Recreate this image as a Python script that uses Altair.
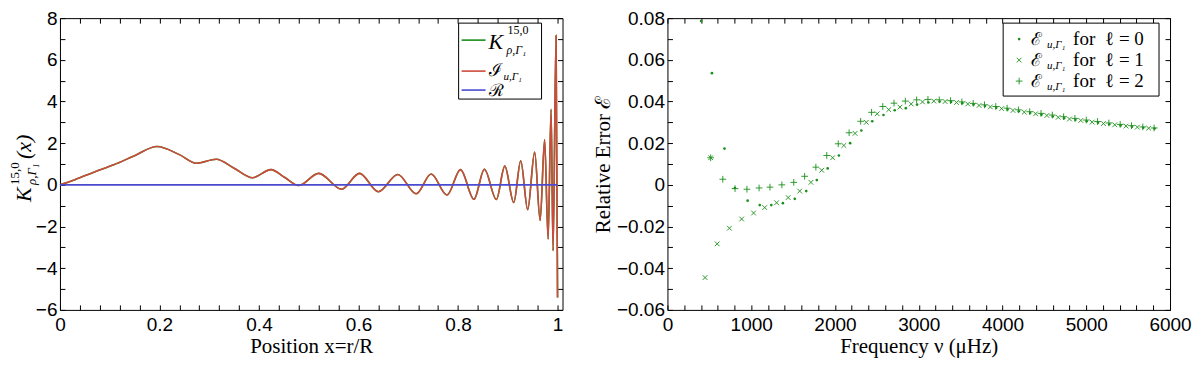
import altair as alt
import pandas as pd

# ---------------- left panel : kernel, integrand, residual ----------------
POSITION = [0.000, 0.030, 0.068, 0.108, 0.150, 0.195, 0.240, 0.274, 0.314, 0.350,
            0.387, 0.424, 0.452, 0.480, 0.520, 0.566, 0.602, 0.640, 0.679, 0.716,
            0.746, 0.778, 0.805, 0.832, 0.853, 0.877, 0.894, 0.912, 0.926, 0.940,
            0.954, 0.965, 0.974, 0.981, 0.987, 0.991, 0.997, 1.000]
KERNEL = [0.00, 0.25, 0.61, 0.96, 1.40, 1.84, 1.45, 1.04, 1.23, 0.80,
          0.34, 0.73, 0.35, -0.03, 0.55, -0.21, 0.55, -0.33, 0.50, -0.43,
          0.52, -0.49, 0.73, -0.69, 0.75, -0.70, 0.90, -0.85, 1.16, -1.19,
          1.57, -1.71, 2.18, -2.60, 3.63, -3.16, 7.17, -5.40]
INTEGRAND = [0.00, 0.25, 0.61, 0.96, 1.40, 1.84, 1.45, 1.04, 1.23, 0.80,
             0.34, 0.73, 0.35, -0.03, 0.55, -0.21, 0.55, -0.33, 0.50, -0.43,
             0.52, -0.49, 0.73, -0.69, 0.75, -0.70, 0.90, -0.85, 1.16, -1.19,
             1.57, -1.71, 2.18, -2.60, 3.63, -3.16, 7.17, -5.40]
RESID_X = [0.0, 1.0]
RESID = [0.0, 0.0]

# ---------------- right panel : relative error per degree ----------------
FREQ_L0 = [402, 531, 681, 805, 957, 1102, 1240, 1378, 1520, 1657, 1783, 1913, 2047,
           2181, 2315, 2445, 2579, 2713, 2846, 2980, 3115, 3250, 3385, 3520, 3655,
           3790, 3925, 4060, 4195, 4330, 4465, 4600, 4735, 4870, 5005, 5140, 5275,
           5410, 5545, 5680, 5815]
ERR_L0 = [0.0786, 0.0536, 0.0174, -0.0015, -0.0076, -0.0097, -0.0097, -0.0088, -0.0067,
          -0.0030, 0.0023, 0.0079, 0.0141, 0.0200, 0.0261, 0.0305, 0.0335, 0.0358,
          0.0368, 0.0385, 0.0395, 0.0400, 0.0398, 0.0392, 0.0385, 0.0378, 0.0370,
          0.0362, 0.0353, 0.0345, 0.0337, 0.0328, 0.0320, 0.0312, 0.0305, 0.0298,
          0.0291, 0.0285, 0.0279, 0.0274, 0.0270]
FREQ_L1 = [449, 516, 594, 740, 886, 1028, 1161, 1303, 1441, 1579, 1713, 1842, 1972,
           2106, 2240, 2374, 2504, 2642, 2776, 2910, 3045, 3180, 3315, 3450, 3585,
           3720, 3855, 3990, 4125, 4260, 4395, 4530, 4665, 4800, 4935, 5070, 5205,
           5340, 5475, 5610, 5745]
ERR_L1 = [-0.0445, 0.0130, -0.0283, -0.0208, -0.0164, -0.0135, -0.0109, -0.0086, -0.0061,
          -0.0030, 0.0012, 0.0070, 0.0130, 0.0189, 0.0247, 0.0300, 0.0341, 0.0361,
          0.0373, 0.0388, 0.0398, 0.0402, 0.0400, 0.0395, 0.0388, 0.0381, 0.0374,
          0.0366, 0.0357, 0.0349, 0.0341, 0.0333, 0.0324, 0.0316, 0.0309, 0.0301,
          0.0294, 0.0288, 0.0282, 0.0277, 0.0272]
FREQ_L2 = [516, 661, 807, 949, 1094, 1224, 1366, 1508, 1638, 1772, 1902, 2039, 2169,
           2307, 2437, 2571, 2705, 2840, 2975, 3110, 3245, 3380, 3515, 3650, 3785,
           3920, 4055, 4190, 4325, 4460, 4595, 4730, 4865, 5000, 5135, 5270, 5405,
           5540, 5675, 5810]
ERR_L2 = [0.0130, 0.0027, -0.0018, -0.0021, -0.0015, -0.0011, 0.0000, 0.0012, 0.0041,
          0.0085, 0.0141, 0.0197, 0.0250, 0.0305, 0.0348, 0.0376, 0.0392, 0.0402,
          0.0408, 0.0410, 0.0408, 0.0404, 0.0398, 0.0391, 0.0384, 0.0376, 0.0368,
          0.0360, 0.0351, 0.0343, 0.0335, 0.0327, 0.0319, 0.0311, 0.0304, 0.0297,
          0.0290, 0.0284, 0.0278, 0.0273]

# ---------------- ticks and texts ----------------
LEFT_X_TICKS = [round(0.04 * i, 2) for i in range(26)]
LEFT_Y_TICKS = list(range(-6, 9))
RIGHT_X_TICKS = list(range(0, 6001, 200))
RIGHT_Y_TICKS = [round(-0.06 + 0.01 * i, 2) for i in range(15)]

LEFT_LEGEND = ["K", "15,0", "ρ,Γ₁", "ℐ", "u,Γ₁", "ℛ"]
RIGHT_LEGEND_MAIN = "ℰ"
RIGHT_LEGEND_SUB = "u,Γ₁"
RIGHT_LEGEND_FOR = "for"
RIGHT_LEGEND_DEG = ["ℓ = 0", "ℓ = 1", "ℓ = 2"]

GREEN = "#1a8f1a"
RED = "#cf4a3c"
BLUE = "#4b4bd0"
SERIF = "Liberation Serif"
SANS = "Liberation Sans"
W, H = 503, 292
TS = 5
DUMMY = pd.DataFrame({"k": [0]})


def label_expr(step):
    return f"abs(datum.value/{step} - round(datum.value/{step})) < 0.001 ? datum.label : ''"


def main_axis(orient, values, step, fmt, title=None, tpad=1):
    kw = dict(orient=orient, values=values, labelExpr=label_expr(step), format=fmt,
              tickSize=TS, offset=-TS, domain=False, grid=False, tickColor="black",
              labelFont=SANS, labelFontSize=19, labelColor="black",
              labelOverlap=False, labelFlush=False,
              titleFont=SERIF, titleFontSize=21, titleFontWeight="normal",
              titleColor="black", titlePadding=tpad, title=title)
    if orient in ("bottom", "top"):
        kw["labelPadding"] = 6
    else:
        kw["labelPadding"] = 3
    return alt.Axis(**kw)


def tick_axis(orient, values):
    return alt.Axis(orient=orient, values=values, labels=False, title=None,
                    tickSize=TS, offset=-TS, domain=False, grid=False, tickColor="black")


def txt(s, x, y, size, italic=False, angle=0, font=SERIF):
    kw = dict(text=s, fontSize=size, font=font, align="left", baseline="alphabetic",
              color="black")
    if italic:
        kw["fontStyle"] = "italic"
    if angle:
        kw["angle"] = angle
    return alt.Chart(DUMMY).mark_text(**kw).encode(x=alt.value(x), y=alt.value(y))


# ---------------- left panel ----------------
left_df = pd.DataFrame({"pos": POSITION, "kernel": KERNEL, "integ": INTEGRAND})
res_df = pd.DataFrame({"pos": RESID_X, "res": RESID})
lx = alt.Scale(domain=[0, 1.01], nice=False, zero=False)
ly = alt.Scale(domain=[-6, 8], nice=False, zero=False)

k_line = alt.Chart(left_df).mark_line(color=GREEN, strokeWidth=1.6, interpolate="monotone").encode(
    x=alt.X("pos:Q", scale=lx, axis=main_axis("bottom", LEFT_X_TICKS, 0.2, ".2~f", "Position x=r/R")),
    y=alt.Y("kernel:Q", scale=ly, axis=main_axis("left", LEFT_Y_TICKS, 2, "d")),
)
i_line = alt.Chart(left_df).mark_line(color=RED, strokeWidth=1.6, interpolate="monotone").encode(
    x=alt.X("pos:Q", scale=lx, axis=None),
    y=alt.Y("integ:Q", scale=ly, axis=None),
)
r_line = alt.Chart(res_df).mark_line(color=BLUE, strokeWidth=1.6).encode(
    x=alt.X("pos:Q", scale=lx, axis=tick_axis("top", LEFT_X_TICKS)),
    y=alt.Y("res:Q", scale=ly, axis=tick_axis("right", LEFT_Y_TICKS)),
)

# y title with sub/superscripts (rotated)
ytitle = [
    txt("K", -29, 184, 22, italic=True, angle=270),
    txt("15,0", -41, 167, 13, angle=270),
    txt("ρ,Γ₁", -24, 167, 13, italic=True, angle=270),
    txt("(x)", -29, 141, 22, italic=True, angle=270),
]

# legend
lbox = alt.Chart(DUMMY).mark_rect(fill="white", stroke="black", strokeWidth=1).encode(
    x=alt.value(399), x2=alt.value(482), y=alt.value(5), y2=alt.value(81))
lleg = [lbox]
for col, yy in [(GREEN, 22), (RED, 53), (BLUE, 72)]:
    lleg.append(alt.Chart(DUMMY).mark_rule(color=col, strokeWidth=1.6).encode(
        x=alt.value(402), x2=alt.value(426), y=alt.value(yy)))
lleg += [
    txt(LEFT_LEGEND[0], 429, 31, 22, italic=True),
    txt(LEFT_LEGEND[1], 448, 16, 12),
    txt(LEFT_LEGEND[2], 447, 36, 12, italic=True),
    txt(LEFT_LEGEND[3], 429, 58, 18),
    txt(LEFT_LEGEND[4], 444, 62, 11, italic=True),
    txt(LEFT_LEGEND[5], 429, 78, 17),
]

left = alt.layer(k_line, i_line, r_line, *ytitle, *lleg).properties(width=W, height=H)

# ---------------- right panel ----------------
rx = alt.Scale(domain=[0, 6000], nice=False, zero=False)
ry = alt.Scale(domain=[-0.06, 0.08], nice=False, zero=False)
PLUS = "M -1 0 L 1 0 M 0 -1 L 0 1"
CROSS = "M -1 -1 L 1 1 M -1 1 L 1 -1"

d0 = pd.DataFrame({"f": FREQ_L0, "e": ERR_L0})
d1 = pd.DataFrame({"f": FREQ_L1, "e": ERR_L1})
d2 = pd.DataFrame({"f": FREQ_L2, "e": ERR_L2})

p0 = alt.Chart(d0).mark_point(shape="circle", filled=True, size=7, color=GREEN, opacity=1).encode(
    x=alt.X("f:Q", scale=rx, axis=main_axis("bottom", RIGHT_X_TICKS, 1000, "d", "Frequency ν (μHz)")),
    y=alt.Y("e:Q", scale=ry, axis=main_axis("left", RIGHT_Y_TICKS, 0.02, ".2~f", "Relative Error ℰ", 3)),
)
p1 = alt.Chart(d1).mark_point(shape=CROSS, filled=False, size=22, color=GREEN, strokeWidth=0.9, opacity=1).encode(
    x=alt.X("f:Q", scale=rx, axis=tick_axis("top", RIGHT_X_TICKS)),
    y=alt.Y("e:Q", scale=ry, axis=tick_axis("right", RIGHT_Y_TICKS)),
)
p2 = alt.Chart(d2).mark_point(shape=PLUS, filled=False, size=45, color=GREEN, strokeWidth=0.9, opacity=1).encode(
    x=alt.X("f:Q", scale=rx, axis=None),
    y=alt.Y("e:Q", scale=ry, axis=None),
)

rbox = alt.Chart(DUMMY).mark_rect(fill="white", stroke="black", strokeWidth=1).encode(
    x=alt.value(336), x2=alt.value(492), y=alt.value(5), y2=alt.value(78))
rleg = [rbox]
rleg.append(alt.Chart(DUMMY).mark_point(shape="circle", filled=True, size=7, color=GREEN, opacity=1).encode(
    x=alt.value(352), y=alt.value(21)))
rleg.append(alt.Chart(DUMMY).mark_point(shape=CROSS, filled=False, size=22, color=GREEN, strokeWidth=0.9, opacity=1).encode(
    x=alt.value(352), y=alt.value(42)))
rleg.append(alt.Chart(DUMMY).mark_point(shape=PLUS, filled=False, size=45, color=GREEN, strokeWidth=0.9, opacity=1).encode(
    x=alt.value(352), y=alt.value(63)))
for i, yy in enumerate([27, 48, 69]):
    rleg.append(txt(RIGHT_LEGEND_MAIN, 364, yy, 18))
    rleg.append(txt(RIGHT_LEGEND_SUB, 380, yy + 3, 11, italic=True))
    rleg.append(txt(RIGHT_LEGEND_FOR, 406, yy, 19))
    rleg.append(txt(RIGHT_LEGEND_DEG[i], 438, yy, 19))

right = alt.layer(p0, p1, p2, *rleg).properties(width=W, height=H)

chart = alt.hconcat(left, right, spacing=28).properties(
    padding={"left": 0, "top": 0, "right": 0, "bottom": 0}
).configure_view(stroke="black", strokeWidth=1)

chart.save("out.html", embed_options={"renderer": "svg", "actions": False})
